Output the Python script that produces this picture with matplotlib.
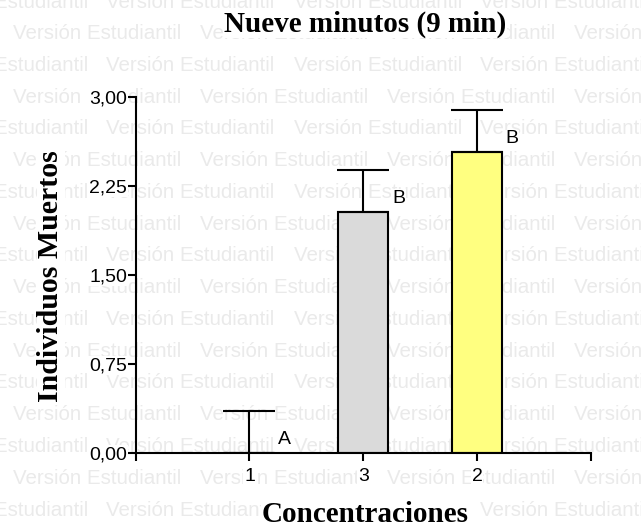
import numpy as np
import matplotlib
matplotlib.use("Agg")
import matplotlib.pyplot as plt

# data
categorias = ['1', '3', '2']
medias = [0.0, 2.03, 2.53]
errores = [0.355, 0.355, 0.36]
letras = ['A', 'B', 'B']
colores = ['#ffffff', '#dadada', '#ffff80']
yticks = [0.0, 0.75, 1.50, 2.25, 3.00]

W, H = 641, 526
fig = plt.figure(figsize=(W / 100, H / 100), dpi=100, facecolor='white')

# watermark of the student version, behind everything
marca = 'Versión Estudiantil'
for k in range(18):
    yc = 2 + 31.75 * k
    x0 = 13 if k % 2 == 1 else 13 - 93.5
    for j in range(-1, 5):
        fig.text((x0 + 187 * j) / W, 1 - yc / H, marca, fontsize=14.8,
                 family='Liberation Sans', color='#eaeaea',
                 ha='left', va='center', zorder=-5)

ax = fig.add_axes([135.7 / W, 1 - 452.7 / H, 455 / W, 356 / H])
ax.patch.set_alpha(0)

x = np.arange(1, len(categorias) + 1)
ax.bar(x, medias, width=0.44, color=colores, edgecolor='black',
       linewidth=1.5, zorder=2)
ax.errorbar(x, medias, yerr=[np.zeros(len(medias)), errores], fmt='none',
            ecolor='black', elinewidth=1.5, capsize=18.5, capthick=1.5, zorder=3)

wbox = dict(facecolor='white', edgecolor='none', pad=0.5)
for xi, m, l in zip(x, medias, letras):
    ax.text(xi + 0.31, m + 0.115, l, fontsize=14, family='Liberation Sans',
            ha='center', va='center', bbox=wbox, zorder=4)

ax.set_xlim(0, 4)
ax.set_ylim(0, 3.0)
ax.set_xticks([0, 1, 2, 3, 4])
ax.set_xticklabels([''] + categorias + [''])
ax.set_yticks(yticks)
ax.set_yticklabels([('%.2f' % v).replace('.', ',') for v in yticks])

for s in ['top', 'right']:
    ax.spines[s].set_visible(False)
for s in ['left', 'bottom']:
    ax.spines[s].set_linewidth(1.5)

ax.tick_params(axis='both', direction='out', length=5.8, width=1.5,
               labelsize=14, colors='black')
ax.tick_params(axis='y', pad=0.5)
ax.tick_params(axis='x', pad=5)
for lab in ax.get_xticklabels() + ax.get_yticklabels():
    lab.set_family('Liberation Sans')
    lab.set_bbox(wbox)

fig.text(365 / W, 1 - 24 / H, 'Nueve minutos (9 min)', fontsize=21,
         family='Liberation Serif', weight='bold', ha='center', va='center',
         bbox=wbox)
fig.text(51 / W, 1 - 276 / H, 'Individuos Muertos', fontsize=21.5,
         family='Liberation Serif', weight='bold', rotation=90,
         ha='center', va='center', bbox=wbox)
fig.text(364.7 / W, 1 - 514 / H, 'Concentraciones', fontsize=21,
         family='Liberation Serif', weight='bold', ha='center', va='center',
         bbox=wbox)

fig.savefig('out.png', dpi=100, facecolor='white')
